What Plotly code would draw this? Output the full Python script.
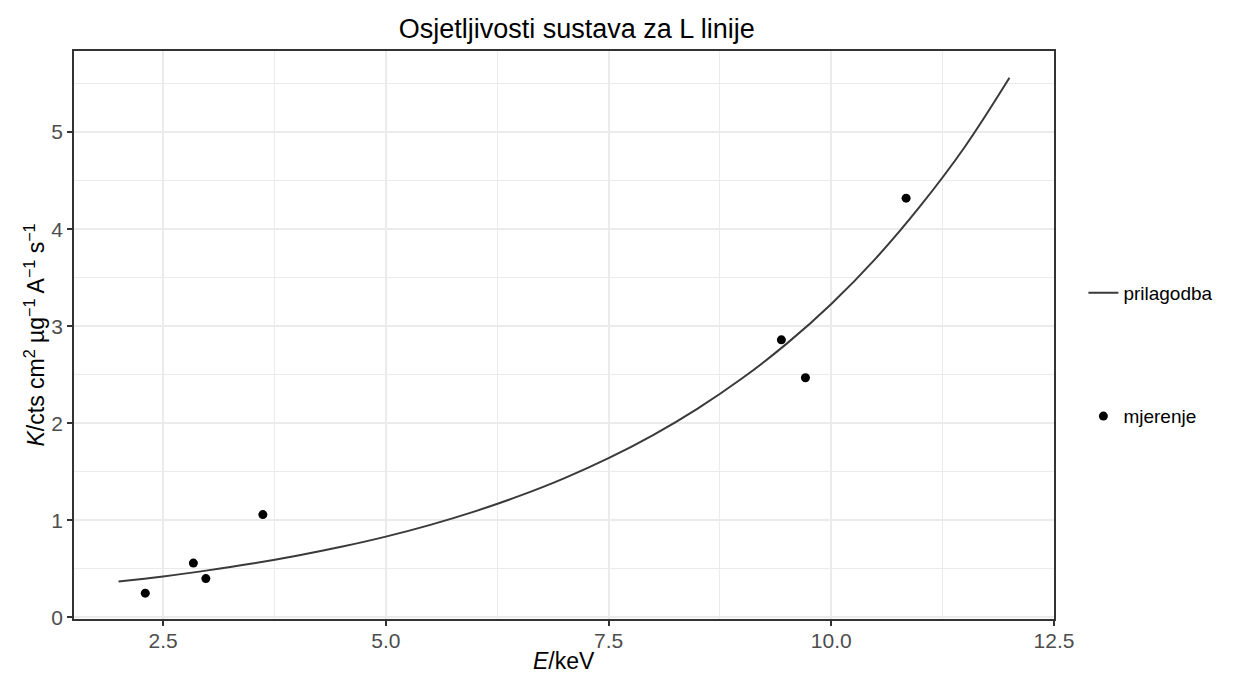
import plotly.graph_objects as go

meas_E = [2.30, 2.84, 2.98, 3.62, 9.44, 9.71, 10.84]
meas_K = [0.25, 0.56, 0.40, 1.06, 2.86, 2.47, 4.32]

# Fitted curve (at regular energies)
fit_E = [2.0, 2.5, 3.0, 3.5, 4.0, 4.5, 5.0, 5.5, 6.0, 6.5, 7.0, 7.5,
         8.0, 8.5, 9.0, 9.5, 10.0, 10.5, 11.0, 11.5, 12.0]
fit_K = [0.370, 0.423, 0.485, 0.555, 0.636, 0.728, 0.833, 0.954, 1.093,
         1.252, 1.433, 1.641, 1.879, 2.152, 2.464, 2.821, 3.230, 3.700,
         4.240, 4.850, 5.560]

x_ticks = [2.5, 5.0, 7.5, 10.0, 12.5]
x_tick_labels = ["2.5", "5.0", "7.5", "10.0", "12.5"]
y_ticks = [0, 1, 2, 3, 4, 5]

FONT = "Liberation Sans, Arial, sans-serif"
GRID = "#EBEBEB"

fig = go.Figure()
fig.add_trace(go.Scatter(
    x=fit_E, y=fit_K, mode="lines", name="prilagodba",
    line=dict(color="#3a3a3a", width=2, shape="spline"),
    legend="legend",
))
fig.add_trace(go.Scatter(
    x=meas_E, y=meas_K, mode="markers", name="mjerenje",
    marker=dict(color="black", size=9),
    legend="legend2",
))

axis_common = dict(
    showline=True, mirror=True, linecolor="#333333", linewidth=1.6,
    ticks="outside", ticklen=5, tickcolor="#333333", tickwidth=1.6,
    showgrid=True, gridcolor=GRID, gridwidth=1.8, zeroline=False,
    automargin=False,
    tickfont=dict(family=FONT, size=21, color="#4D4D4D"),
)

fig.update_layout(
    width=1234, height=676,
    paper_bgcolor="white", plot_bgcolor="white",
    margin=dict(l=74, r=180, t=51, b=57, autoexpand=False),
    title=dict(text="Osjetljivosti sustava za L linije", x=0.513, xref="paper",
               xanchor="center", y=0.958, yanchor="middle",
               font=dict(family=FONT, size=27, color="black")),
    xaxis=dict(
        range=[1.5, 12.5], tickvals=x_ticks, ticktext=x_tick_labels,
        minor=dict(tickvals=[3.75, 6.25, 8.75, 11.25], showgrid=True,
                   gridcolor=GRID, gridwidth=0.9, ticks=""),
        ticklabelstandoff=-3,
        **axis_common,
    ),
    yaxis=dict(
        range=[-0.016, 5.836], tickvals=y_ticks,
        minor=dict(tickvals=[0.5, 1.5, 2.5, 3.5, 4.5, 5.5], showgrid=True,
                   gridcolor=GRID, gridwidth=0.9, ticks=""),
        title=dict(text="<i>K</i>/cts cm<sup>2</sup> µg<sup>−1</sup> A<sup>−1</sup> s<sup>−1</sup>",
                   standoff=0,
                   font=dict(family=FONT, size=23, color="black")),
        **axis_common,
    ),
    annotations=[dict(
        text="<i>E</i>/keV", xref="paper", yref="paper", x=0.5, y=-0.074,
        xanchor="center", yanchor="middle", showarrow=False,
        font=dict(family=FONT, size=23, color="black"),
    )],
    legend=dict(x=1.03, y=0.574, xanchor="left", yanchor="middle",
                font=dict(family=FONT, size=19, color="black"),
                bgcolor="rgba(0,0,0,0)", itemwidth=30),
    legend2=dict(x=1.03, y=0.357, xanchor="left", yanchor="middle",
                 font=dict(family=FONT, size=19, color="black"),
                 bgcolor="rgba(0,0,0,0)", itemwidth=30),
    showlegend=True,
)

fig.write_html("out.html", config={"displayModeBar": False},
               post_script="document.body.style.margin='0';document.body.style.overflow='hidden';")
